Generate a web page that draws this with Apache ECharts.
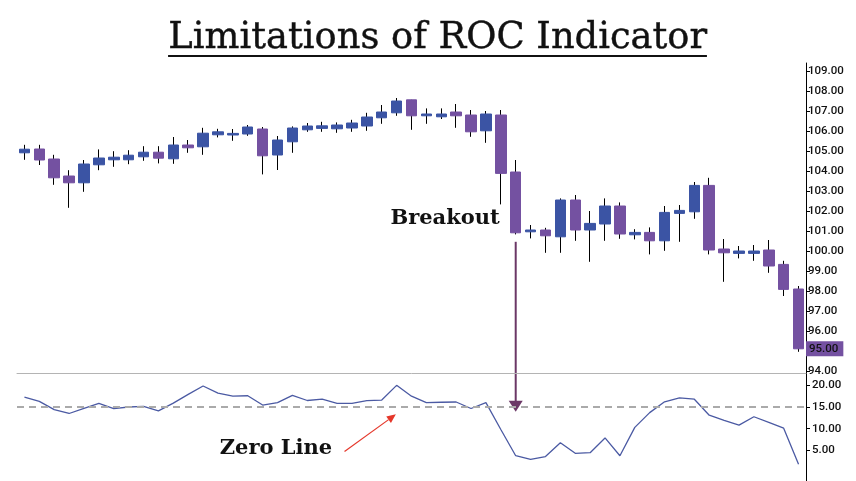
<!DOCTYPE html>
<html><head><meta charset="utf-8">
<script src="https://cdn.jsdelivr.net/npm/echarts@6/dist/echarts.min.js"></script>
<style>html,body{margin:0;padding:0;background:#fff}#c{width:856px;height:481px}</style>
</head><body><div id="c"></div>
<script>
const titleText = 'Limitations of ROC Indicator';
const breakoutLabel = 'Breakout';
const zeroLineLabel = 'Zero Line';
const lastPriceTag = '95.00';

const opens  = [104.90,105.09,104.59,103.74,103.40,104.30,104.55,104.55,104.70,104.93,104.60,105.29,105.20,105.80,105.79,105.84,106.09,104.79,105.45,106.05,106.12,106.10,106.14,106.24,106.65,106.90,107.55,106.75,106.70,106.94,106.79,106.00,106.79,103.94,100.95,101.04,100.70,102.54,101.04,101.34,102.24,100.80,100.92,100.50,101.87,101.95,103.27,100.09,99.87,99.87,100.04,99.32,98.09];
const closes = [105.08,104.54,103.65,103.40,104.34,104.64,104.68,104.78,104.93,104.63,105.29,105.15,105.88,105.95,105.87,106.19,104.75,105.54,106.14,106.24,106.25,106.29,106.39,106.69,106.94,107.49,106.75,106.84,106.84,106.75,105.95,106.84,103.87,100.90,101.04,100.75,102.54,101.04,101.37,102.24,100.84,100.92,100.50,101.92,102.02,103.27,100.04,99.90,99.99,99.99,99.24,98.07,95.10];
const lows   = [104.55,104.29,103.30,102.15,102.95,104.03,104.20,104.33,104.50,104.37,104.35,104.90,104.80,105.67,105.50,105.75,103.82,104.04,104.90,105.95,105.95,105.90,105.95,106.00,106.35,106.75,106.05,106.35,106.59,106.15,105.70,105.40,102.32,100.82,100.62,99.90,99.90,100.50,99.45,100.50,100.60,100.57,99.82,100.00,100.45,101.60,99.82,98.45,99.62,99.50,98.90,97.74,94.95];
const highs  = [105.30,105.30,104.80,104.03,104.54,105.07,104.98,105.03,105.23,105.23,105.69,105.54,106.15,106.10,106.09,106.29,106.19,105.74,106.22,106.39,106.45,106.42,106.55,106.90,107.29,107.64,107.55,107.12,107.12,107.34,107.04,106.99,107.04,104.54,101.29,101.15,102.62,102.79,101.99,102.62,102.42,101.08,101.17,102.24,102.29,103.44,103.65,100.59,100.24,100.29,100.54,99.50,98.24];
const rocValues = [17.3,16.3,14.4,13.5,14.7,15.85,14.6,15.0,15.15,14.1,15.9,17.9,19.85,18.2,17.5,17.6,15.45,16.0,17.7,16.5,16.8,15.85,15.85,16.45,16.6,20.0,17.5,16.0,16.1,16.15,14.65,16.0,9.8,3.75,2.9,3.55,6.75,4.3,4.45,7.85,3.75,10.3,13.7,16.2,17.1,16.8,13.1,11.9,10.8,12.75,11.45,10.1,1.8];
const priceTicks = [94,95,96,97,98,99,100,101,102,103,104,105,106,107,108,109];
const rocTicks = [5,10,15,20];
const rocReference = 15;
const breakoutIndex = 33;

const sessions = opens.map((_, i) => i);

const BLUE = '#3b54a4', PURPLE = '#7451a1';
const axisFont = {fontFamily: 'Roboto', fontSize: 11.5, fontWeight: 500, color: '#111'};

const chart = echarts.init(document.getElementById('c'), null, {renderer: 'canvas'});

const wickData = sessions.map(i => [opens[i], closes[i], lows[i], highs[i]]);
const bodyData = sessions.map(i => [opens[i], closes[i], Math.min(opens[i], closes[i]), Math.max(opens[i], closes[i])]);

chart.setOption({
  animation: false,
  backgroundColor: '#fff',
  grid: [
    {left: 17, right: 50, top: 63, height: 310},
    {left: 17, right: 50, top: 373, height: 108}
  ],
  xAxis: [
    {type: 'category', gridIndex: 0, data: sessions, axisLine: {show: true, lineStyle: {color: '#b4b4b4', width: 1}}, axisTick: {show: false}, axisLabel: {show: false}, splitLine: {show: false}},
    {type: 'category', gridIndex: 1, data: sessions, show: false}
  ],
  yAxis: [
    {type: 'value', gridIndex: 0, position: 'right', min: 93.89, max: 109.39,
     axisLine: {show: true, lineStyle: {color: '#000', width: 1}},
     axisTick: {show: true, length: 4, customValues: priceTicks, lineStyle: {color: '#000'}},
     axisLabel: Object.assign({customValues: priceTicks, margin: 2, formatter: v => Number(v).toFixed(2)}, axisFont),
     splitLine: {show: false}},
    {type: 'value', gridIndex: 1, position: 'right', min: -2.09, max: 22.85,
     axisLine: {show: true, lineStyle: {color: '#000', width: 1}},
     axisTick: {show: true, length: 4, customValues: rocTicks, lineStyle: {color: '#000'}},
     axisLabel: Object.assign({customValues: rocTicks, margin: 6, formatter: v => Number(v).toFixed(2)}, axisFont),
     splitLine: {show: false}}
  ],
  series: [
    {type: 'candlestick', xAxisIndex: 0, yAxisIndex: 0, data: wickData, barWidth: 1, z: 2,
     itemStyle: {color: '#000', color0: '#000', borderColor: '#000', borderColor0: '#000', borderWidth: 1}},
    {type: 'candlestick', xAxisIndex: 0, yAxisIndex: 0, data: bodyData, barWidth: 11, z: 3,
     itemStyle: {color: BLUE, color0: PURPLE, borderColor: BLUE, borderColor0: PURPLE, borderWidth: 1},
     markLine: {silent: true, symbol: 'none', animation: false,
       data: [{yAxis: closes[closes.length - 1]}],
       lineStyle: {color: 'rgba(0,0,0,0)', width: 0},
       label: Object.assign({show: true, position: 'end', distance: 0, formatter: lastPriceTag, backgroundColor: PURPLE, padding: [2, 5, 1, 3]}, axisFont)}},
    {type: 'line', xAxisIndex: 1, yAxisIndex: 1, data: rocValues, symbol: 'none', smooth: false,
     lineStyle: {color: '#4b5aa3', width: 1.3},
     markLine: {silent: true, symbol: 'none', animation: false,
       data: [{yAxis: rocReference}],
       lineStyle: {color: '#aaaaaa', type: [7, 5], width: 2},
       label: {show: false}}}
  ]
});

// annotations anchored to the axes
const bx = chart.convertToPixel({xAxisIndex: 0}, breakoutIndex);
const by1 = chart.convertToPixel({yAxisIndex: 0}, 100.45);
const by2 = chart.convertToPixel({yAxisIndex: 1}, 13.9);
const x0 = chart.convertToPixel({xAxisIndex: 1}, 0);
const band = chart.convertToPixel({xAxisIndex: 1}, 1) - x0;
const zx1 = x0 + band * 21.5, zy1 = chart.convertToPixel({yAxisIndex: 1}, 4.7);
const zx2 = x0 + band * 24.95, zy2 = chart.convertToPixel({yAxisIndex: 1}, 13.3);
const ang = Math.atan2(zy2 - zy1, zx2 - zx1);
const hl = 9, hw = 4;
const hx = zx2 - hl * Math.cos(ang), hy = zy2 - hl * Math.sin(ang);

// title measurement
const cv = document.createElement('canvas').getContext('2d');
cv.font = '100px "DejaVu Serif"';
const tFont = 100 * 539 / cv.measureText(titleText).width;
cv.font = tFont + 'px "DejaVu Serif"';
const tW = cv.measureText(titleText).width;
const tCx = 437.5;

chart.setOption({
  graphic: [
    {type: 'text', left: tCx - tW / 2, top: 20, style: {text: titleText, fontFamily: 'DejaVu Serif', fontSize: tFont, fill: '#111', stroke: '#111', lineWidth: 0.4}},
    {type: 'rect', shape: {x: tCx - tW / 2, y: 55, width: tW, height: 2}, style: {fill: '#111'}},
    {type: 'line', shape: {x1: bx, y1: by1, x2: bx, y2: by2 - 9}, style: {stroke: '#6b3766', lineWidth: 2}},
    {type: 'polygon', shape: {points: [[bx - 7, by2 - 11], [bx + 7, by2 - 11], [bx, by2]]}, style: {fill: '#6b3766'}},
    {type: 'line', shape: {x1: zx1, y1: zy1, x2: hx, y2: hy}, style: {stroke: '#e5372a', lineWidth: 1.2}},
    {type: 'polygon', shape: {points: [[zx2, zy2], [hx - hw * Math.sin(ang), hy + hw * Math.cos(ang)], [hx + hw * Math.sin(ang), hy - hw * Math.cos(ang)]]}, style: {fill: '#e5372a'}},
    {type: 'text', x: bx - 16, y: 219, style: {text: breakoutLabel, fontFamily: 'DejaVu Serif', fontWeight: 'bold', fontSize: 21, fill: '#111', align: 'right', verticalAlign: 'middle'}},
    {type: 'text', x: 276, y: 449, style: {text: zeroLineLabel, fontFamily: 'DejaVu Serif', fontWeight: 'bold', fontSize: 21, fill: '#111', align: 'center', verticalAlign: 'middle'}}
  ]
});
</script>
</body></html>
